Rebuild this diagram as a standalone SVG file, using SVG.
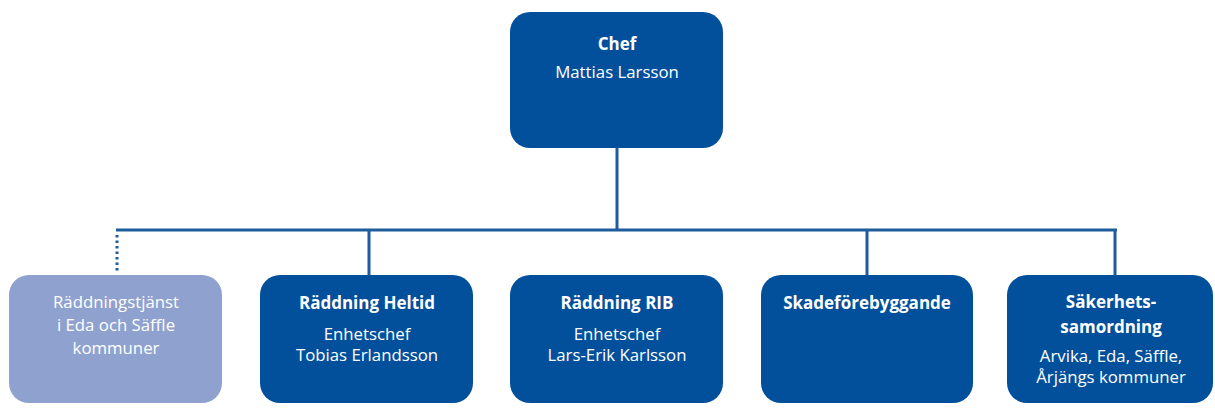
<svg xmlns="http://www.w3.org/2000/svg" width="1215" height="409" viewBox="0 0 1215 409">
<style>
.box{fill:#02509C}
.light{fill:#8FA2CF}
.t{font-family:"Open Sans","Liberation Sans",sans-serif;font-size:16.8px;fill:#fff;text-anchor:middle}
.b{font-weight:bold;font-size:17px}
.ln{stroke:#1E5C9C;stroke-width:3;fill:none}
.dot{stroke:#1E5C9C;stroke-width:3;fill:none;stroke-dasharray:2.5 3}
</style>
<rect width="1215" height="409" fill="#fff"/>
<g id="connectors">
<line class="ln" x1="617" y1="147" x2="617" y2="230"/>
<line class="ln" x1="116" y1="230" x2="1117" y2="230"/>
<line class="dot" x1="117" y1="235" x2="117" y2="273"/>
<line class="ln" x1="369" y1="230" x2="369" y2="276"/>
<line class="ln" x1="867" y1="230" x2="867" y2="276"/>
<line class="ln" x1="1115" y1="230" x2="1115" y2="276"/>
</g>
<g id="chef">
<rect class="box" x="510" y="12" width="213" height="136" rx="20"/>
<text class="t b" x="617" y="50">Chef</text>
<text class="t" x="617" y="78">Mattias Larsson</text>
</g>
<g id="eda">
<rect class="light" x="9" y="275" width="213" height="128" rx="20"/>
<text class="t" x="116" y="308">Räddningstjänst</text>
<text class="t" x="116" y="331">i Eda och Säffle</text>
<text class="t" x="116" y="354">kommuner</text>
</g>
<g id="heltid">
<rect class="box" x="260" y="275" width="213" height="128" rx="20"/>
<text class="t b" x="367" y="309">Räddning Heltid</text>
<text class="t" x="367" y="340">Enhetschef</text>
<text class="t" x="367" y="361">Tobias Erlandsson</text>
</g>
<g id="rib">
<rect class="box" x="510" y="275" width="213" height="128" rx="20"/>
<text class="t b" x="617" y="309">Räddning RIB</text>
<text class="t" x="617" y="340">Enhetschef</text>
<text class="t" x="617" y="361">Lars-Erik Karlsson</text>
</g>
<g id="skade">
<rect class="box" x="761" y="275" width="212" height="128" rx="20"/>
<text class="t b" x="867" y="309">Skadeförebyggande</text>
</g>
<g id="sakerhet">
<rect class="box" x="1007" y="275" width="206" height="128" rx="20"/>
<text class="t b" x="1111" y="308">Säkerhets-</text>
<text class="t b" x="1111" y="333">samordning</text>
<text class="t" x="1111" y="362">Arvika, Eda, Säffle,</text>
<text class="t" x="1111" y="383">Årjängs kommuner</text>
</g>
</svg>
